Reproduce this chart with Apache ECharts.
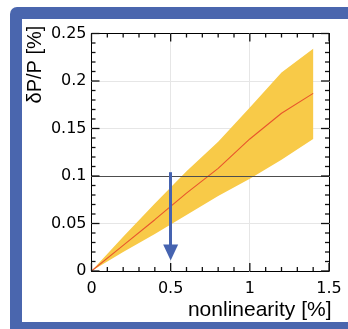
<!DOCTYPE html>
<html>
<head>
<meta charset="utf-8">
<script src="https://cdn.jsdelivr.net/npm/echarts@6/dist/echarts.min.js"></script>
<style>
  html, body { margin: 0; padding: 0; background: #ffffff; overflow: hidden; }
  #page { position: relative; width: 348px; height: 329px; overflow: hidden; background: #ffffff; }
  #frame { position: absolute; left: 10px; top: 7px; width: 400px; height: 340px;
           background: #4a66ae; border-radius: 7px; }
  #panel { position: absolute; left: 22px; top: 19px; width: 400px; height: 303px; background: #ffffff; }
  #chart { position: absolute; left: 0; top: 0; width: 348px; height: 329px; }
</style>
</head>
<body>
<div id="page">
  <div id="frame"></div>
  <div id="panel"></div>
  <div id="chart"></div>
</div>
<script>
// Relative momentum uncertainty vs. detector nonlinearity
const nonlinearity = [0, 0.2, 0.4, 0.6, 0.8, 1.0, 1.2, 1.4];
const dPcentral    = [0, 0.027, 0.054, 0.082, 0.108, 0.139, 0.166, 0.187];
const dPupper      = [0, 0.036, 0.071, 0.105, 0.136, 0.172, 0.209, 0.234];
const dPlower      = [0, 0.020, 0.039, 0.059, 0.079, 0.097, 0.117, 0.139];

// frame ticks (major ones carry labels)
const xMajorTicks = [0, 0.5, 1, 1.5];
const xMinorTicks = [0.1, 0.2, 0.3, 0.4, 0.6, 0.7, 0.8, 0.9, 1.1, 1.2, 1.3, 1.4];
const yMajorTicks = [0, 0.05, 0.1, 0.15, 0.2, 0.25];
const yMinorTicks = [0.01, 0.02, 0.03, 0.04, 0.06, 0.07, 0.08, 0.09, 0.11, 0.12,
                     0.13, 0.14, 0.16, 0.17, 0.18, 0.19, 0.21, 0.22, 0.23, 0.24];

const requirement = 0.1;                // horizontal reference level
const arrowX = 0.5, arrowFrom = 0.104, arrowTo = 0.0195;

const X_MAX = 1.5, Y_MAX = 0.25;

const BLACK = { color: '#000', width: 1 };
const TICK_FONT = { fontFamily: 'DejaVu Sans', fontSize: 16, color: '#000' };
const MAJOR_LEN = 8, MINOR_LEN = 4, TICK_W = 1.3;

const chart = echarts.init(document.getElementById('chart'), null, { renderer: 'canvas' });

function frameAxis(extra, labelOpt) {
  return Object.assign({
    type: 'value', min: 0,
    axisLine: { show: true, onZero: false, lineStyle: BLACK },
    axisTick: { show: false },
    minorTick: { show: false },
    axisLabel: labelOpt || { show: false },
    splitLine: { show: false }
  }, extra);
}

const pairs = (ys) => nonlinearity.map((x, i) => [x, ys[i]]);

// closed outline of the uncertainty band: upper edge forward, lower edge back
const bandOutline = pairs(dPupper).concat(pairs(dPlower).reverse());

const crisp = v => Math.round(v - 0.5) + 0.5;
const segment = (a, b, c, d, color, width) => ({
  type: 'line', shape: { x1: a, y1: b, x2: c, y2: d },
  style: { stroke: color, lineWidth: width }
});
const bar = (x, y, w, h) => ({
  type: 'rect', shape: { x: x, y: y, width: w, height: h },
  style: { fill: '#111' }
});

// light grid lines at the labelled values
function renderGrid(params, api) {
  const [x0, y0] = api.coord([0, 0]).map(crisp);
  const [x1, y1] = api.coord([X_MAX, Y_MAX]).map(crisp);
  const children = [];
  xMajorTicks.filter(v => v > 0 && v < X_MAX).forEach(v => {
    const x = crisp(api.coord([v, 0])[0]);
    children.push(segment(x, y0, x, y1, '#e6e6e6', 1));
  });
  yMajorTicks.filter(v => v > 0 && v < Y_MAX).forEach(v => {
    const y = crisp(api.coord([0, v])[1]);
    children.push(segment(x0, y, x1, y, '#e6e6e6', 1));
  });
  return { type: 'group', children };
}

// inward ticks on all four sides of the plot frame, drawn as thin filled bars
function renderTicks(params, api) {
  const [x0, y0] = api.coord([0, 0]);
  const [x1, y1] = api.coord([X_MAX, Y_MAX]);
  const h = TICK_W / 2;
  const children = [];
  const xTick = (v, len) => {
    const x = api.coord([v, 0])[0];
    children.push(bar(x - h, y0 - len, TICK_W, len));
    children.push(bar(x - h, y1, TICK_W, len));
  };
  const yTick = (v, len) => {
    const y = api.coord([0, v])[1];
    children.push(bar(x0, y - h, len, TICK_W));
    children.push(bar(x1 - len, y - h, len, TICK_W));
  };
  xMajorTicks.forEach(v => xTick(v, MAJOR_LEN));
  xMinorTicks.forEach(v => xTick(v, MINOR_LEN));
  yMajorTicks.forEach(v => yTick(v, MAJOR_LEN));
  yMinorTicks.forEach(v => yTick(v, MINOR_LEN));
  return { type: 'group', children };
}

chart.setOption({
  animation: false,
  backgroundColor: 'transparent',
  grid: { left: 91.5, top: 33.5, right: 19, bottom: 58, containLabel: false },
  xAxis: [
    frameAxis({ position: 'bottom', max: X_MAX, interval: 0.5 },
      Object.assign({ show: true, margin: 10 }, TICK_FONT)),
    frameAxis({ position: 'top', max: X_MAX, interval: 0.5 })
  ],
  yAxis: [
    frameAxis({ position: 'left', max: Y_MAX, interval: 0.05 },
      Object.assign({ show: true, margin: 5 }, TICK_FONT)),
    frameAxis({ position: 'right', max: Y_MAX, interval: 0.05 })
  ],
  series: [
    {
      name: 'grid lines', type: 'custom', silent: true, z: 1, clip: false,
      data: [[0, 0]],
      renderItem: renderGrid
    },
    {
      name: 'band', type: 'custom', silent: true, z: 2,
      data: [[0, 0]],
      renderItem: (params, api) => ({
        type: 'polygon',
        shape: { points: bandOutline.map(p => api.coord(p)) },
        style: { fill: '#f8ca48' }
      })
    },
    {
      name: 'central', type: 'line', symbol: 'none',
      data: pairs(dPcentral),
      lineStyle: { color: '#e8552c', width: 1.1 },
      z: 4
    },
    {
      name: 'requirement', type: 'line', data: [], z: 5,
      markLine: {
        silent: true, symbol: ['none', 'none'], label: { show: false },
        lineStyle: { color: '#4d4d4d', width: 1.2, type: 'solid' },
        data: [[{ coord: [0, requirement] }, { coord: [X_MAX, requirement] }]]
      }
    },
    {
      name: 'arrow', type: 'line', data: [], z: 6,
      markLine: {
        silent: true, symbol: ['none', 'triangle'], symbolSize: [15, 16],
        label: { show: false },
        lineStyle: { color: '#4563b0', width: 3, type: 'solid' },
        itemStyle: { color: '#4563b0' },
        data: [[{ coord: [arrowX, arrowFrom] }, { coord: [arrowX, arrowTo] }]]
      }
    },
    {
      name: 'ticks', type: 'custom', silent: true, z: 7, clip: false,
      data: [[0, 0]],
      renderItem: renderTicks
    }
  ],
  graphic: {
    elements: [
      {
        type: 'text', silent: true,
        x: 35.5, y: 64.5, rotation: Math.PI / 2,
        style: {
          text: 'δP/P [%]', fontFamily: 'Liberation Sans', fontSize: 20,
          fill: '#000', align: 'center', verticalAlign: 'middle'
        }
      },
      {
        type: 'text', silent: true,
        x: 331.5, y: 310,
        style: {
          text: 'nonlinearity [%]', fontFamily: 'Liberation Sans', fontSize: 21,
          fill: '#000', align: 'right', verticalAlign: 'middle'
        }
      }
    ]
  }
});
</script>
</body>
</html>
